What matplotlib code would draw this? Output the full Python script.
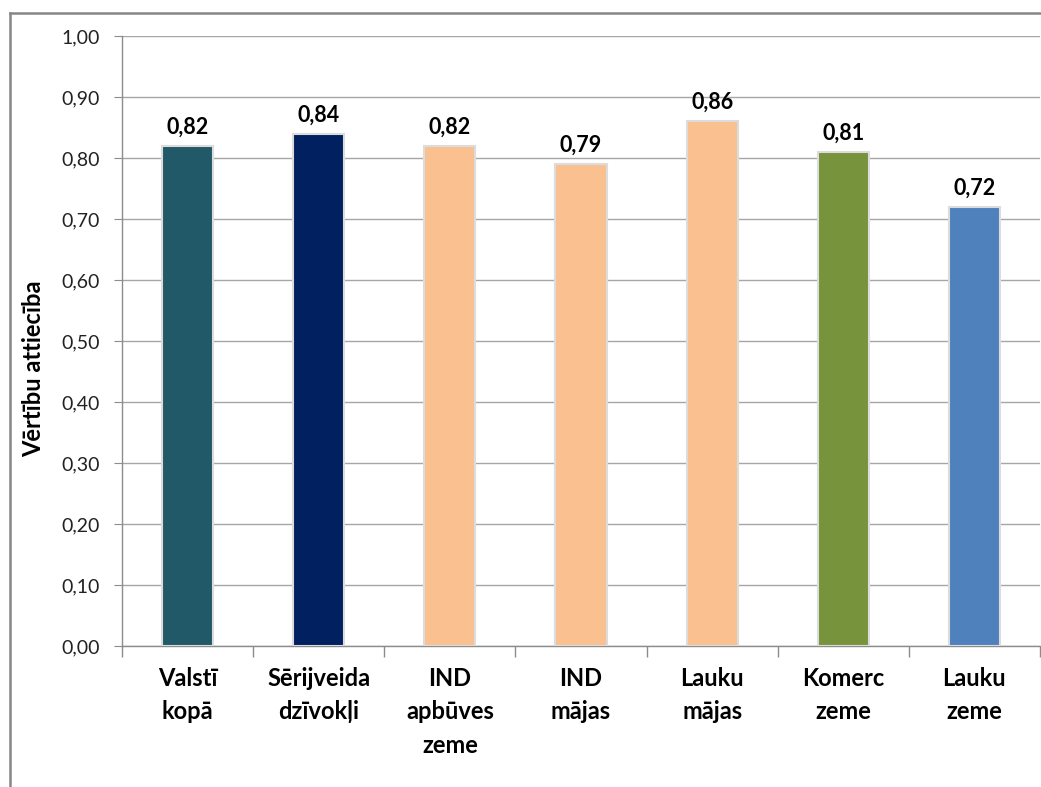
import numpy as np
import matplotlib.pyplot as plt
from matplotlib.lines import Line2D
from matplotlib.ticker import FuncFormatter

plt.rcParams['font.family'] = ['Lato', 'DejaVu Sans']

categories = ['Valstī\nkopā', 'Sērijveida\ndzīvokļi', 'IND\napbūves\nzeme',
              'IND\nmājas', 'Lauku\nmājas', 'Komerc\nzeme', 'Lauku\nzeme']
values = [0.82, 0.84, 0.82, 0.79, 0.86, 0.81, 0.72]
colors = ['#215968', '#002060', '#FAC090', '#FAC090', '#FAC090', '#77933C', '#4F81BD']
ylabel = 'Vērtību attiecība'

fig = plt.figure(figsize=(10.41, 7.87), dpi=100)
ax = fig.add_axes([122 / 1041, 1 - 646 / 787, (1040 - 122) / 1041, (646 - 36) / 787])

x = np.arange(len(categories))
bars = ax.bar(x, values, width=0.39, color=colors, edgecolor='#dcdcdc',
              linewidth=1.5, zorder=3)

for b, v in zip(bars, values):
    ax.annotate(f'{v:.2f}'.replace('.', ','), (b.get_x() + b.get_width() / 2, v),
                xytext=(0, 6), textcoords='offset points', ha='center', va='bottom',
                fontsize=15.5, fontweight='bold', color='#000000')

ax.set_xlim(-0.5, len(categories) - 0.5)
ax.set_ylim(0, 1.0)
ax.set_yticks(np.arange(0, 1.01, 0.1))
ax.yaxis.set_major_formatter(FuncFormatter(lambda v, p: f'{v:.2f}'.replace('.', ',')))
ax.grid(axis='y', color='#a6a6a6', linewidth=1, zorder=0)

ax.set_xticks(x)
ax.set_xticklabels(categories, fontsize=17, fontweight='bold', linespacing=1.55,
                   va='top', ha='center', multialignment='center')
ax.set_xticks(np.arange(-0.5, len(categories)), minor=True)
ax.tick_params(axis='x', which='major', length=0, pad=15)
ax.tick_params(axis='x', which='minor', length=8, color='#8c8c8c', width=1)
ax.tick_params(axis='y', length=6, color='#8c8c8c', labelsize=14, labelcolor='#222222', pad=10)

for s in ['top', 'right']:
    ax.spines[s].set_visible(False)
for s in ['left', 'bottom']:
    ax.spines[s].set_color('#8c8c8c')
    ax.spines[s].set_linewidth(1)

ax.set_ylabel(ylabel, fontsize=17, fontweight='bold')
ax.yaxis.set_label_coords(-0.084, 0.455)

fx = 10 / 1041
fy = 1 - 13 / 787
fig.add_artist(Line2D([fx, fx], [0, fy], color='#878787', linewidth=1.8))
fig.add_artist(Line2D([fx, 1], [fy, fy], color='#878787', linewidth=1.8))

fig.savefig('out.png', dpi=100)
